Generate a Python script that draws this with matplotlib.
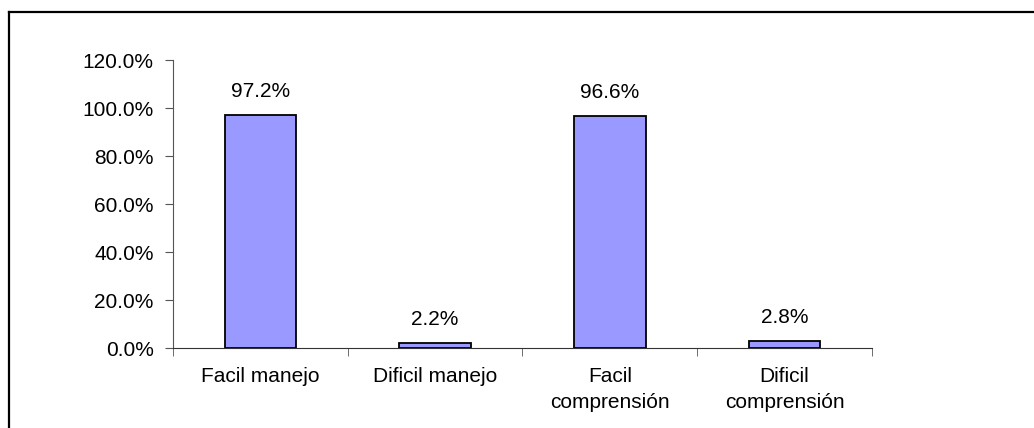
import matplotlib.pyplot as plt
from matplotlib.lines import Line2D
import numpy as np

categories = ["Facil manejo", "Dificil manejo", "Facil\ncomprensión", "Dificil\ncomprensión"]
values = [97.2, 2.2, 96.6, 2.8]
value_labels = ["97.2%", "2.2%", "96.6%", "2.8%"]
yticks = [0, 20, 40, 60, 80, 100, 120]
ytick_labels = ["0.0%", "20.0%", "40.0%", "60.0%", "80.0%", "100.0%", "120.0%"]

plt.rcParams['font.family'] = ['Liberation Sans', 'DejaVu Sans']
fs = 15

fig = plt.figure(figsize=(10.34, 4.28), dpi=100)
ax = fig.add_axes([0.1673, 0.1869, 0.676, 0.6729])

x = np.arange(len(categories))
bars = ax.bar(x, values, width=0.41, color='#9999FF', edgecolor='black', linewidth=1.3)

for xi, v, lab in zip(x, values, value_labels):
    ax.annotate(lab, (xi, v), xytext=(0, 17), textcoords='offset points',
                ha='center', va='center', fontsize=fs)

ax.set_xlim(-0.5, len(categories) - 0.5)
ax.set_ylim(0, 120)
ax.set_yticks(yticks)
ax.set_yticklabels(ytick_labels, fontsize=fs)
ax.set_xticks(x)
ax.set_xticklabels(categories, fontsize=fs, linespacing=1.45)
ax.set_xticks(np.arange(len(categories) + 1) - 0.5, minor=True)
ax.tick_params(axis='x', which='major', length=0, pad=14)
ax.tick_params(axis='x', which='minor', length=6, direction='out', color='#555555')
ax.tick_params(axis='y', length=6, direction='out', pad=8, color='#555555')

for side in ['top', 'right']:
    ax.spines[side].set_visible(False)
ax.spines['left'].set_color('#555555')
ax.spines['bottom'].set_color('#333333')

# outer frame (only left and top edges are visible in the picture)
fig.add_artist(Line2D([9 / 1034, 9 / 1034], [0, 1 - 12 / 428], transform=fig.transFigure, color='black', linewidth=1.6))
fig.add_artist(Line2D([9 / 1034, 1], [1 - 12 / 428, 1 - 12 / 428], transform=fig.transFigure, color='black', linewidth=1.6))

fig.savefig('out.png', dpi=100)
